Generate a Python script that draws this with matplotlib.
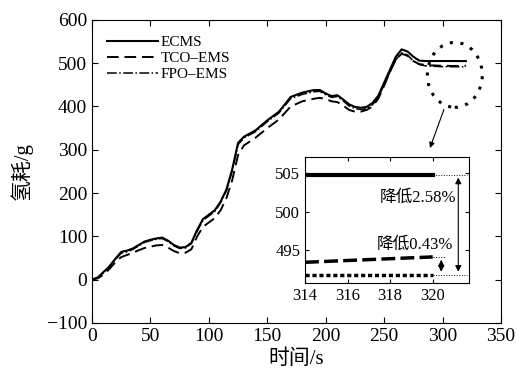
import numpy as np
import matplotlib.pyplot as plt
from matplotlib.patches import Ellipse

plt.rcParams['font.family'] = ['Liberation Serif', 'Noto Sans CJK SC']
plt.rcParams['axes.unicode_minus'] = True
plt.rcParams['xtick.direction'] = 'in'
plt.rcParams['ytick.direction'] = 'in'
plt.rcParams['xtick.top'] = True
plt.rcParams['ytick.right'] = True

# Dados
t = [0, 5, 10, 14, 20, 25, 30, 35, 40, 45, 50, 55, 60, 65, 70, 75, 80, 85, 90,
     95, 100, 105, 110, 115, 120, 125, 130, 140, 150, 160, 170, 180, 190, 195,
     200, 205, 210, 215, 220, 225, 230, 235, 240, 245, 250, 255, 260, 265, 270,
     275, 280, 285, 290, 300, 310, 320]
ecms = [0, 5, 18, 28, 48, 64, 67, 72, 80, 88, 92, 95, 97, 90, 80, 74, 75, 85,
        115, 140, 150, 160, 180, 208, 255, 316, 330, 345, 368, 388, 422, 432,
        438, 438, 430, 424, 426, 416, 405, 399, 397, 399, 408, 425, 455, 485,
        515, 532, 527, 515, 506, 505, 505, 505, 505, 504.8]
tco = [0, 3, 12, 22, 40, 52, 57, 62, 68, 73, 76, 79, 80, 74, 66, 61, 62, 70,
       100, 122, 132, 142, 160, 188, 230, 288, 310, 328, 350, 370, 400, 412,
       418, 420, 417, 412, 410, 402, 392, 388, 388, 392, 400, 418, 448, 480,
       508, 522, 517, 505, 498, 496, 495, 494, 493.6, 494.1]
fpo = [0, 4, 16, 26, 46, 61, 64, 70, 78, 86, 90, 93, 95, 88, 78, 72, 73, 83,
       112, 137, 147, 157, 177, 205, 251, 312, 327, 342, 365, 385, 418, 428,
       434, 435, 427, 421, 423, 413, 401, 395, 393, 395, 404, 421, 450, 480,
       508, 524, 519, 505, 497, 494, 493, 492, 491.8, 491.8]

# Dados do detalhe
t_zoom = [314, 320]
ecms_zoom = [504.8, 504.8]
tco_zoom = [493.4, 494.1]
fpo_zoom = [491.8, 491.8]

fig = plt.figure(figsize=(5.17, 3.83), dpi=100)
ax = fig.add_axes([0.178, 0.157, 0.791, 0.791])
ax.plot(t, ecms, 'k-', lw=1.5, label='ECMS')
ax.plot(t, tco, 'k--', lw=1.4, dashes=(6, 3), label='TCO\u2013EMS')
ax.plot(t, fpo, 'k-.', lw=1.1, label='FPO\u2013EMS')
ax.set_xlim(0, 350)
ax.set_ylim(-100, 600)
ax.set_xticks(range(0, 351, 50))
ax.set_yticks(range(-100, 601, 100))
ax.tick_params(labelsize=14, length=4)
ax.set_xlabel('时间/s', fontsize=15, labelpad=3)
ax.set_ylabel('氢耗/g', fontsize=15, labelpad=10)
ax.legend(loc='upper left', frameon=False, fontsize=11, handlelength=3.3,
          handletextpad=0.2, labelspacing=0.15, borderaxespad=0.6)

# Elipse e seta
ax.add_patch(Ellipse((310.5, 473), 47, 150, fill=False, ls=(0, (1, 2.5)),
                     lw=2.2, ec='k'))
ax.annotate('', xy=(288.4, 298), xytext=(302, 399),
            arrowprops=dict(arrowstyle='-|>', color='k', lw=0.8,
                            mutation_scale=8))

# Detalhe
ins = fig.add_axes([0.590, 0.261, 0.317, 0.329])
ins.plot(t_zoom, ecms_zoom, 'k-', lw=3)
ins.plot(t_zoom, tco_zoom, 'k--', lw=2.5, dashes=(4, 1.5))
ins.plot(t_zoom, fpo_zoom, 'k:', lw=2.5, dashes=(1.2, 0.8))
ins.set_xlim(314, 321.7)
ins.set_ylim(490.7, 507.1)
ins.set_xticks([314, 316, 318, 320])
ins.set_yticks([495, 500, 505])
ins.tick_params(labelsize=12, length=3)
ins.plot([320, 321.6], [504.8, 504.8], 'k:', lw=0.7)
ins.plot([320, 321.6], [491.8, 491.8], 'k:', lw=0.7)
ins.plot([320, 320.6], [494.1, 494.1], 'k:', lw=0.7)
ins.annotate('', xy=(321.2, 504.8), xytext=(321.2, 491.8),
             arrowprops=dict(arrowstyle='<|-|>', color='k', lw=0.8,
                             mutation_scale=9))
ins.annotate('', xy=(320.4, 494.1), xytext=(320.4, 491.8),
             arrowprops=dict(arrowstyle='<|-|>', color='k', lw=0.8,
                             mutation_scale=9))
ins.text(321.1, 501.8, '降低2.58%', fontsize=12, ha='right', va='center')
ins.text(320.95, 495.6, '降低0.43%', fontsize=12, ha='right', va='center')

plt.savefig('out.png', dpi=100)
